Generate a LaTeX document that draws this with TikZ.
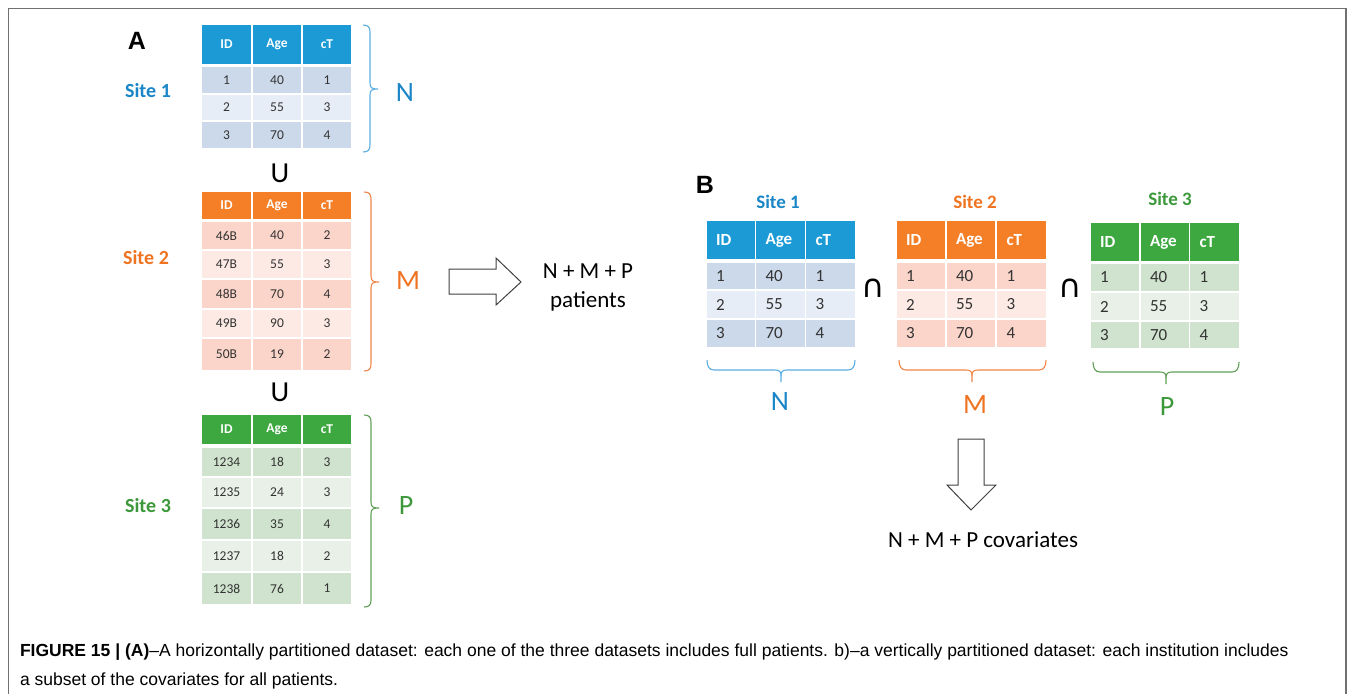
\documentclass[tikz,border=0pt]{standalone}
\usepackage{fontspec}
\setmainfont{Carlito}
\newfontfamily\capfont{Liberation Sans}
\newfontfamily\symfont{DejaVu Sans}

\definecolor{bhead}{HTML}{1B9AD6}
\definecolor{bdark}{HTML}{CBD9EA}
\definecolor{blight}{HTML}{E7EDF6}
\definecolor{ohead}{HTML}{F57F27}
\definecolor{odark}{HTML}{FBD5CA}
\definecolor{olight}{HTML}{FDEAE4}
\definecolor{ghead}{HTML}{3DA83F}
\definecolor{gdark}{HTML}{CFE3CE}
\definecolor{glight}{HTML}{E8F0E7}
\definecolor{btext}{HTML}{1A86C8}
\definecolor{otext}{HTML}{EF7421}
\definecolor{gtext}{HTML}{3C983A}
\definecolor{bbrace}{HTML}{5BAEE2}
\definecolor{obrace}{HTML}{F0864A}
\definecolor{gbrace}{HTML}{5E9F55}
\definecolor{celltext}{HTML}{333333}
\definecolor{framegray}{HTML}{707070}
\definecolor{arrowgray}{HTML}{404040}

% one table row of three cells; column positions come from \xa,\xb,\xc and widths \wa,\wb,\wc
\newcommand\trow[8]{%
  \node[#5, fill=#4, minimum width=\wa pt, minimum height=#3pt, anchor=north west] (#1a) at (\xa,#2) {#6};
  \node[#5, fill=#4, minimum width=\wb pt, minimum height=#3pt, anchor=north west] (#1b) at (\xb,#2) {#7};
  \node[#5, fill=#4, minimum width=\wc pt, minimum height=#3pt, anchor=north west] (#1c) at (\xc,#2) {#8};
}
\newcommand\setcols[6]{\def\xa{#1}\def\wa{#2}\def\xb{#3}\def\wb{#4}\def\xc{#5}\def\wc{#6}}

% right-facing brace: x, top y, bottom y, tip y, colour
\newcommand\sidebrace[5]{%
  \draw[#5, line width=1.1pt] (#1,#2) .. controls (#1+5,#2) and (#1+7,#2+2) .. (#1+7,#2+7)
    -- (#1+7,#4-6) .. controls (#1+7,#4-1) and (#1+9,#4) .. (#1+15,#4)
    .. controls (#1+9,#4) and (#1+7,#4+1) .. (#1+7,#4+6)
    -- (#1+7,#3-7) .. controls (#1+7,#3-2) and (#1+5,#3) .. (#1,#3);
}
% downward brace: left x, right x, top y, middle x, colour
\newcommand\lowbrace[5]{%
  \draw[#5, line width=1.1pt] (#1,#3) .. controls (#1,#3+6) and (#1+2,#3+10) .. (#1+7,#3+10)
    -- (#4-6,#3+10) .. controls (#4-1,#3+10) and (#4,#3+12) .. (#4,#3+16) -- (#4,#3+22);
  \draw[#5, line width=1.1pt] (#2,#3) .. controls (#2,#3+6) and (#2-2,#3+10) .. (#2-7,#3+10)
    -- (#4+6,#3+10) .. controls (#4+1,#3+10) and (#4,#3+12) .. (#4,#3+16);
}

\begin{document}
\begin{tikzpicture}[x=1pt,y=-1pt,
  every node/.style={inner sep=0pt, outer sep=0pt},
  acell/.style={font=\fontsize{13.5}{16}\selectfont, text=celltext},
  ahead/.style={font=\fontsize{13.5}{16}\selectfont\bfseries, text=white},
  bcell/.style={font=\fontsize{17}{20}\selectfont, text=celltext, text width=30pt, inner xsep=8pt, align=left},
  bhd/.style={font=\fontsize{17}{20}\selectfont\bfseries, text=white, text width=30pt, inner xsep=8pt, align=left},
  sitelbl/.style={font=\fontsize{20}{24}\selectfont\bfseries},
  sitelblb/.style={font=\fontsize{19}{23}\selectfont\bfseries},
  setlbl/.style={font=\fontsize{28}{32}\selectfont},
  panel/.style={font=\capfont\bfseries\fontsize{25}{28}\selectfont},
  oper/.style={font=\fontsize{29}{32}\selectfont},
  inter/.style={font=\symfont\fontsize{32}{36}\selectfont},
  bigarrow/.style={draw=arrowgray, line width=1pt, fill=white},
  result/.style={font=\fontsize{23}{29}\selectfont, text=black, align=center},
  caption/.style={font=\capfont\fontsize{17.5}{20}\selectfont, anchor=west}
]
\useasboundingbox (0,0) rectangle (1356,693);
\draw[framegray, line width=1.2pt] (8.5,700) -- (8.5,8.5) -- (1346,8.5) -- (1346,700);

% ---------- panel A ----------
\node[panel] (labA) at (137,41) {A};

% site 1
\setcols{202}{49}{253}{48}{303}{48}
\trow{a1h}{25}{39}{bhead}{ahead}{ID}{Age}{cT}
\trow{a1r1}{67}{26}{bdark}{acell}{1}{40}{1}
\trow{a1r2}{95}{25}{blight}{acell}{2}{55}{3}
\trow{a1r3}{122}{26}{bdark}{acell}{3}{70}{4}
\node[sitelbl, text=btext] (a1site) at (148,91) {Site 1};
\sidebrace{363}{25}{152}{89}{bbrace}
\node[setlbl, text=btext] (a1set) at (405,93) {N};

\node[oper] (u1) at (280,173) {U};

% site 2
\trow{a2h}{192}{27}{ohead}{ahead}{ID}{Age}{cT}
\trow{a2r1}{222}{27}{odark}{acell}{46B}{40}{2}
\trow{a2r2}{251}{27}{olight}{acell}{47B}{55}{3}
\trow{a2r3}{280}{28}{odark}{acell}{48B}{70}{4}
\trow{a2r4}{310}{27}{olight}{acell}{49B}{90}{3}
\trow{a2r5}{339}{31}{odark}{acell}{50B}{19}{2}
\node[sitelbl, text=otext] (a2site) at (146,258) {Site 2};
\sidebrace{364}{192}{371}{282}{obrace}
\node[setlbl, text=otext] (a2set) at (408,281) {M};

\node[oper] (u2) at (280,392) {U};

% site 3
\trow{a3h}{415}{29}{ghead}{ahead}{ID}{Age}{cT}
\trow{a3r1}{448}{28}{gdark}{acell}{1234}{18}{3}
\trow{a3r2}{478}{29}{glight}{acell}{1235}{24}{3}
\trow{a3r3}{509}{30}{gdark}{acell}{1236}{35}{4}
\trow{a3r4}{541}{30}{glight}{acell}{1237}{18}{2}
\trow{a3r5}{573}{31}{gdark}{acell}{1238}{76}{1}
\node[sitelbl, text=gtext] (a3site) at (148,506) {Site 3};
\sidebrace{364}{415}{607}{508}{gbrace}
\node[setlbl, text=gtext] (a3set) at (406,506) {P};

% union result
\draw[bigarrow] (449,269) -- (496,269) -- (496,258) -- (521,282) -- (496,305) -- (496,294) -- (449,294) -- cycle;
\node[result] (patients) at (588,287) {N + M + P\\patients};

% ---------- panel B ----------
\node[panel] (labB) at (705,185) {B};

% site 1
\setcols{707}{48}{756}{49}{806}{49}
\trow{b1h}{221}{38}{bhead}{bhd}{ID}{Age}{cT}
\trow{b1r1}{263}{26}{bdark}{bcell}{1}{40}{1}
\trow{b1r2}{291}{27}{blight}{bcell}{2}{55}{3}
\trow{b1r3}{320}{27}{bdark}{bcell}{3}{70}{4}
\node[sitelblb, text=btext] (b1site) at (778,202) {Site 1};
\lowbrace{707}{855}{360}{781}{bbrace}
\node[setlbl, text=btext] (b1set) at (780,402) {N};

\node[inter] (cap1) at (873,288) {∩};

% site 2
\setcols{897}{48}{947}{48}{997}{49}
\trow{b2h}{221}{38}{ohead}{bhd}{ID}{Age}{cT}
\trow{b2r1}{263}{26}{odark}{bcell}{1}{40}{1}
\trow{b2r2}{291}{27}{olight}{bcell}{2}{55}{3}
\trow{b2r3}{320}{27}{odark}{bcell}{3}{70}{4}
\node[sitelblb, text=otext] (b2site) at (975,202) {Site 2};
\lowbrace{899}{1046}{360}{972}{obrace}
\node[setlbl, text=otext] (b2set) at (975,405) {M};

\node[inter] (cap2) at (1070,288) {∩};

% site 3
\setcols{1091}{48}{1141}{48}{1190}{49}
\trow{b3h}{223}{38}{ghead}{bhd}{ID}{Age}{cT}
\trow{b3r1}{264}{27}{gdark}{bcell}{1}{40}{1}
\trow{b3r2}{293}{27}{glight}{bcell}{2}{55}{3}
\trow{b3r3}{322}{26}{gdark}{bcell}{3}{70}{4}
\node[sitelblb, text=gtext] (b3site) at (1170,199) {Site 3};
\lowbrace{1093}{1239}{362}{1166}{gbrace}
\node[setlbl, text=gtext] (b3set) at (1167,407) {P};

% intersection result
\draw[bigarrow] (958,439) -- (984,439) -- (984,485) -- (996,485) -- (971,510) -- (947,485) -- (958,485) -- cycle;
\node[result] (covars) at (983,540) {N + M + P covariates};

% ---------- caption ----------
\node[caption] (cap1line) at (20,652) {{\bfseries FIGURE 15 | (A)}–A horizontally partitioned dataset: each one of the three datasets includes full patients. b)–a vertically partitioned dataset: each institution includes};
\node[caption] (cap2line) at (20,681) {a subset of the covariates for all patients.};
\end{tikzpicture}
\end{document}
